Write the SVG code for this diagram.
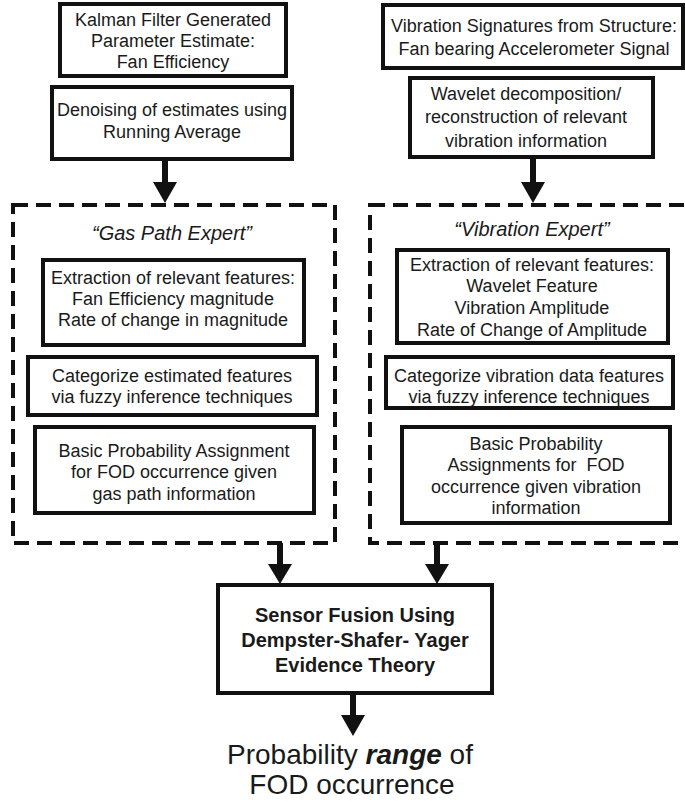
<svg xmlns="http://www.w3.org/2000/svg" width="685" height="804" viewBox="0 0 685 804">
<style>
.box{fill:#fff;stroke:#111;stroke-width:4}
.dash{fill:none;stroke:#111;stroke-width:4;stroke-dasharray:15 8}
text{font-family:"Liberation Sans",Arial,sans-serif;fill:#1a1a1a;text-anchor:middle}
.t{font-size:18px}
.ti{font-size:20px;font-style:italic}
.tb{font-size:20px;font-weight:bold}
.big{font-size:28px}
.arr{fill:#111}
</style>
<rect width="685" height="804" fill="#fff"/>
<g id="gas-path-expert">
<rect class="dash" x="13" y="205" width="322" height="338"/>
<text class="ti" x="172" y="240">“Gas Path Expert”</text>
</g>
<g id="vibration-expert">
<rect class="dash" x="370" y="205" width="330" height="338"/>
<text class="ti" x="532" y="236">“Vibration Expert”</text>
</g>
<g id="kalman">
<rect class="box" x="60" y="4" width="226" height="72"/>
<text class="t" x="173" y="26">Kalman Filter Generated</text>
<text class="t" x="173" y="47">Parameter Estimate:</text>
<text class="t" x="173" y="68">Fan Efficiency</text>
</g>
<g id="denoising">
<rect class="box" x="52" y="87" width="240" height="72"/>
<text class="t" x="172" y="116">Denoising of estimates using</text>
<text class="t" x="172" y="138">Running Average</text>
</g>
<g id="vibration-signatures">
<rect class="box" x="383" y="5" width="300" height="63"/>
<text class="t" x="534" y="32">Vibration Signatures from Structure:</text>
<text class="t" x="534" y="55">Fan bearing Accelerometer Signal</text>
</g>
<g id="wavelet">
<rect class="box" x="410" y="78" width="243" height="79"/>
<text class="t" x="526" y="100">Wavelet decomposition/</text>
<text class="t" x="526" y="123">reconstruction of relevant</text>
<text class="t" x="526" y="147">vibration information</text>
</g>
<g id="gas-extraction">
<rect class="box" x="43" y="260" width="261" height="85"/>
<text class="t" x="173" y="284">Extraction of relevant features:</text>
<text class="t" x="173" y="305">Fan Efficiency magnitude</text>
<text class="t" x="173" y="326">Rate of change in magnitude</text>
</g>
<g id="gas-categorize">
<rect class="box" x="28" y="357" width="289" height="58"/>
<text class="t" x="172" y="382">Categorize estimated features</text>
<text class="t" x="172" y="403">via fuzzy inference techniques</text>
</g>
<g id="gas-bpa">
<rect class="box" x="35" y="427" width="279" height="86"/>
<text class="t" x="174" y="457">Basic Probability Assignment</text>
<text class="t" x="174" y="478">for FOD occurrence given</text>
<text class="t" x="174" y="500">gas path information</text>
</g>
<g id="vib-extraction">
<rect class="box" x="397" y="250" width="271" height="93"/>
<text class="t" x="532" y="271">Extraction of relevant features:</text>
<text class="t" x="532" y="292">Wavelet Feature</text>
<text class="t" x="532" y="314">Vibration Amplitude</text>
<text class="t" x="532" y="336">Rate of Change of Amplitude</text>
</g>
<g id="vib-categorize">
<rect class="box" x="386" y="357" width="287" height="51"/>
<text class="t" x="529" y="382">Categorize vibration data features</text>
<text class="t" x="529" y="403">via fuzzy inference techniques</text>
</g>
<g id="vib-bpa">
<rect class="box" x="402" y="427" width="268" height="96"/>
<text class="t" x="536" y="450">Basic Probability</text>
<text class="t" x="536" y="471" xml:space="preserve">Assignments for  FOD</text>
<text class="t" x="536" y="493">occurrence given vibration</text>
<text class="t" x="536" y="514">information</text>
</g>
<g id="sensor-fusion">
<rect class="box" x="218" y="585" width="274" height="108"/>
<text class="tb" x="355" y="622">Sensor Fusion Using</text>
<text class="tb" x="355" y="647">Dempster-Shafer- Yager</text>
<text class="tb" x="355" y="672">Evidence Theory</text>
</g>
<g id="result">
<text class="big" x="350" y="764">Probability <tspan font-weight="bold" font-style="italic">range</tspan> of</text>
<text class="big" x="352" y="794">FOD occurrence</text>
</g>
<g id="connectors">
<polygon class="arr" points="162,159 168,159 168,182 177,182 165,203 153,182 162,182"/>
<polygon class="arr" points="530,157 536,157 536,182 545,182 533,203 521,182 530,182"/>
<polygon class="arr" points="277,543 283,543 283,564 292,564 280,584 268,564 277,564"/>
<polygon class="arr" points="434,543 440,543 440,564 449,564 437,584 425,564 434,564"/>
<polygon class="arr" points="350,693 356,693 356,715 365,715 353,736 341,715 350,715"/>
</g>
</svg>
